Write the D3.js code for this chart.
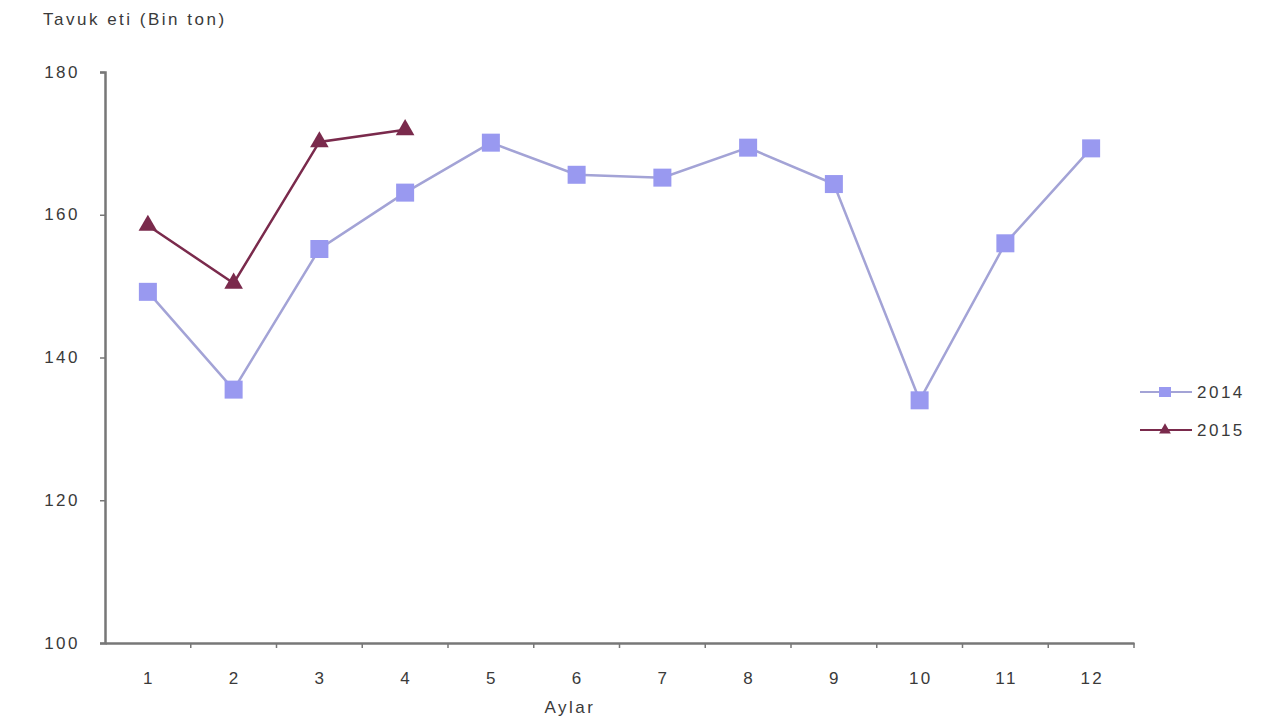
<!DOCTYPE html>
<html><head><meta charset="utf-8">
<script src="https://cdn.jsdelivr.net/npm/d3@7/dist/d3.min.js"></script>
<style>body{margin:0;background:#fff}svg{display:block}text{font-family:"Liberation Sans",Arial,sans-serif;fill:#3a3a3a;letter-spacing:2.5px}</style>
</head><body>
<svg id="c" width="1280" height="720"></svg>
<script>
const months = ["1","2","3","4","5","6","7","8","9","10","11","12"];
const values2014 = [149.2, 135.5, 155.2, 163.1, 170.1, 165.6, 165.2, 169.4, 164.3, 134.0, 156.0, 169.3];
const values2015 = [158.5, 150.4, 170.2, 171.9];
const yTicks = [100, 120, 140, 160, 180];

const svg = d3.select("#c");
const x = d3.scaleBand().domain(months).range([105, 1134]);
const y = d3.scaleLinear().domain([100, 180]).range([643, 72]);

const yAxis = d3.axisLeft(y).tickValues(yTicks).tickSize(5).tickPadding(20).tickFormat(d3.format("d"));
const gy = svg.append("g").attr("transform","translate(105,0)").call(yAxis);
gy.select(".domain").attr("stroke","#777").attr("stroke-width",2.5);
gy.selectAll(".tick line").attr("stroke","#777").attr("stroke-width",1.5);
gy.selectAll(".tick text").attr("font-size",17).attr("fill","#3a3a3a").attr("dy","0.3em");

const xAxis = d3.axisBottom(x).tickSize(0).tickPadding(29);
const gx = svg.append("g").attr("transform","translate(0,643)").call(xAxis);
gx.select(".domain").attr("stroke","#777").attr("stroke-width",2.5);
gx.selectAll(".tick text").attr("font-size",17).attr("fill","#3a3a3a").attr("dx","1.2");
const bounds = months.map((m,i)=>x(m)).concat([x.range()[1]]);
gx.selectAll("line.sep").data(bounds.slice(1)).enter().append("line")
  .attr("x1",d=>d).attr("x2",d=>d).attr("y1",0).attr("y2",5)
  .attr("stroke","#777").attr("stroke-width",1.5);

const cx = m => x(m) + x.bandwidth()/2;

const line = d3.line().x(d=>cx(d.m)).y(d=>y(d.v));
const d14 = months.map((m,i)=>({m, v: values2014[i]}));
const d15 = values2015.map((v,i)=>({m: months[i], v}));
svg.append("path").datum(d14).attr("d",line).attr("fill","none").attr("stroke","#a3a3d6").attr("stroke-width",2.5);
svg.selectAll("rect.p14").data(d14).enter().append("rect")
  .attr("x",d=>cx(d.m)-9).attr("y",d=>y(d.v)-9).attr("width",18).attr("height",18).attr("fill","#9999f0");

svg.append("path").datum(d15).attr("d",line).attr("fill","none").attr("stroke","#7a2a4c").attr("stroke-width",2.5);
const tri = d3.symbol().type(d3.symbolTriangle).size(150);
svg.selectAll("path.p15").data(d15).enter().append("path")
  .attr("d",tri).attr("transform",d=>`translate(${cx(d.m)},${y(d.v)})`).attr("fill","#7a2a4c");

const leg = [{name:"2014", color:"#a3a3d6", mc:"#9999f0", sq:true, yy:392},{name:"2015", color:"#7a2a4c", mc:"#7a2a4c", sq:false, yy:430}];
leg.forEach(l=>{
  svg.append("line").attr("x1",1140).attr("x2",1192).attr("y1",l.yy).attr("y2",l.yy).attr("stroke",l.color).attr("stroke-width",2);
  if(l.sq) svg.append("rect").attr("x",1159).attr("y",l.yy-5).attr("width",12).attr("height",10).attr("fill",l.mc);
  else svg.append("path").attr("d",d3.symbol().type(d3.symbolTriangle).size(60)).attr("transform",`translate(1165,${l.yy})`).attr("fill",l.mc);
  svg.append("text").attr("x",1197).attr("y",l.yy).attr("dy","0.35em").attr("font-size",17).text(l.name);
});

svg.append("text").attr("x",43).attr("y",25).attr("font-size",17).text("Tavuk eti (Bin ton)");
svg.append("text").attr("x",570).attr("y",713).attr("text-anchor","middle").attr("font-size",17).text("Aylar");
</script>
</body></html>
